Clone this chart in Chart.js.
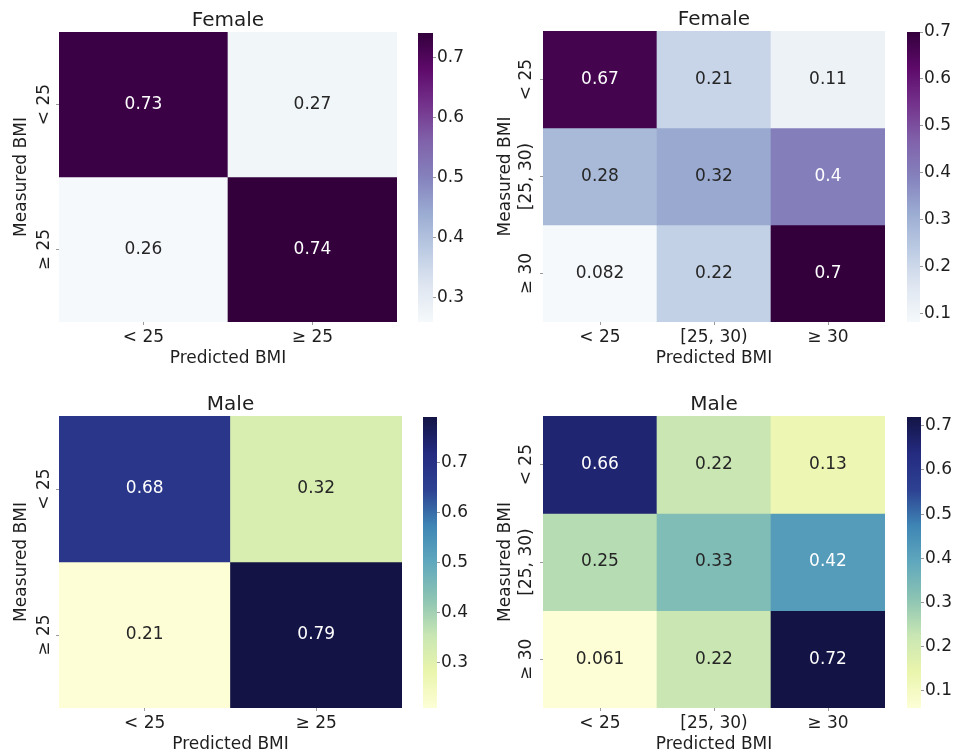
<!DOCTYPE html>
<html>
<head>
<meta charset="utf-8">
<script src="https://cdn.jsdelivr.net/npm/chart.js@4.4.1/dist/chart.umd.min.js"></script>
<style>
  html, body { margin: 0; padding: 0; background: #ffffff; }
  body { position: relative; width: 954px; height: 753px; overflow: hidden; }
  .box { position: absolute; }
</style>
</head>
<body>
<div class="box" style="left:0px;top:0px;width:397px;height:370px"><canvas id="heatFemale2"></canvas></div>
<div class="box" style="left:418px;top:0px;width:70px;height:370px"><canvas id="barFemale2"></canvas></div>
<div class="box" style="left:480px;top:0px;width:405px;height:370px"><canvas id="heatFemale3"></canvas></div>
<div class="box" style="left:907px;top:0px;width:70px;height:370px"><canvas id="barFemale3"></canvas></div>
<div class="box" style="left:0px;top:385px;width:402px;height:371px"><canvas id="heatMale2"></canvas></div>
<div class="box" style="left:423px;top:385px;width:70px;height:371px"><canvas id="barMale2"></canvas></div>
<div class="box" style="left:480px;top:385px;width:405px;height:371px"><canvas id="heatMale3"></canvas></div>
<div class="box" style="left:907px;top:385px;width:70px;height:371px"><canvas id="barMale3"></canvas></div>

<script>
// ---- data ----
const twoClassLabels = ['< 25', '≥ 25'];
const threeClassLabels = ['< 25', '[25, 30)', '≥ 30'];

// rows = measured BMI class, columns = predicted BMI class
const femaleTwoClass = [
  [0.73, 0.27],
  [0.26, 0.74]
];
const femaleThreeClass = [
  [0.67, 0.21, 0.11],
  [0.28, 0.32, 0.4],
  [0.082, 0.22, 0.7]
];
const maleTwoClass = [
  [0.68, 0.32],
  [0.21, 0.79]
];
const maleThreeClass = [
  [0.66, 0.22, 0.13],
  [0.25, 0.33, 0.42],
  [0.061, 0.22, 0.72]
];

// colour bar tick values
const femaleTwoTicks = [0.3, 0.4, 0.5, 0.6, 0.7];
const femaleThreeTicks = [0.1, 0.2, 0.3, 0.4, 0.5, 0.6, 0.7];
const maleTwoTicks = [0.3, 0.4, 0.5, 0.6, 0.7];
const maleThreeTicks = [0.1, 0.2, 0.3, 0.4, 0.5, 0.6, 0.7];

// sequential palettes (blue-purple and yellow-green-blue), evenly spaced stops
const purplePalette = ['#f5f9fb', '#dfe6f1', '#bccbe3', '#9bacd2', '#8582bd', '#8062aa', '#74338c', '#5e0a6a', '#33003c'];
const bluePalette = ['#fdfed6', '#eaf5ac', '#c8e6b3', '#8cc4b3', '#60a8bd', '#3f86b5', '#2d4192', '#242b80', '#131445'];

// ---- helpers ----
const FONT = 'DejaVu Sans';
const TEXT = '#1e1e1e';
Chart.defaults.font.family = FONT;
Chart.defaults.color = TEXT;
Chart.defaults.animation = false;

function hexToRgb(h) {
  return [parseInt(h.slice(1, 3), 16), parseInt(h.slice(3, 5), 16), parseInt(h.slice(5, 7), 16)];
}
function sampleMap(stops, t) {
  t = Math.max(0, Math.min(1, t));
  const pos = t * (stops.length - 1);
  const i = Math.min(Math.floor(pos), stops.length - 2);
  const f = pos - i;
  const a = hexToRgb(stops[i]), b = hexToRgb(stops[i + 1]);
  return a.map((c, k) => Math.round(c + (b[k] - c) * f));
}
function luminance(rgb) {
  const lin = rgb.map(c => {
    c = c / 255;
    return c <= 0.03928 ? c / 12.92 : Math.pow((c + 0.055) / 1.055, 2.4);
  });
  return 0.2126 * lin[0] + 0.7152 * lin[1] + 0.0722 * lin[2];
}
function formatG2(v) {
  return String(parseFloat(v.toPrecision(2)));
}

// writes the value into the middle of each cell, light text on dark cells
const cellLabels = {
  id: 'cellLabels',
  afterDatasetsDraw(chart) {
    const ctx = chart.ctx;
    ctx.save();
    ctx.font = '17px "' + FONT + '"';
    ctx.textAlign = 'center';
    ctx.textBaseline = 'middle';
    chart.data.datasets.forEach((ds, di) => {
      chart.getDatasetMeta(di).data.forEach((bar, i) => {
        ctx.fillStyle = luminance(ds.cellRgb[i]) > 0.38 ? '#262626' : '#ffffff';
        ctx.fillText(formatG2(ds.cellValues[i]), bar.x, (bar.y + bar.base) / 2);
      });
    });
    ctx.restore();
  }
};

function heatmap(id, title, labels, matrix, palette, cfg) {
  const flat = matrix.flat();
  const vmin = Math.min(...flat), vmax = Math.max(...flat);
  const rows = matrix.length;
  const datasets = matrix.map((row, r) => {
    const rgb = row.map(v => sampleMap(palette, (v - vmin) / (vmax - vmin)));
    return {
      data: row.map(() => [r, r + 1]),
      cellValues: row,
      cellRgb: rgb,
      backgroundColor: rgb.map(c => `rgb(${c[0]},${c[1]},${c[2]})`),
      borderWidth: 0,
      borderSkipped: false,
      barPercentage: 1,
      categoryPercentage: 1,
      grouped: false
    };
  });
  return new Chart(document.getElementById(id), {
    type: 'bar',
    data: { labels: labels, datasets: datasets },
    plugins: [cellLabels],
    options: {
      responsive: true,
      maintainAspectRatio: false,
      layout: { padding: 0 },
      plugins: {
        legend: { display: false },
        tooltip: { enabled: false },
        title: {
          display: true,
          text: title,
          fullSize: false,
          color: TEXT,
          font: { size: 20, weight: 'normal', lineHeight: 1 },
          padding: { top: cfg.titleTop, bottom: 1 }
        }
      },
      scales: {
        x: {
          type: 'category',
          afterFit: s => { s.height = 48; },
          grid: { display: true, offset: false, drawOnChartArea: false, drawTicks: true, tickLength: 3, color: '#9a9a9a' },
          border: { display: false },
          ticks: { font: { size: 17 }, color: TEXT, padding: 2, maxRotation: 0, autoSkip: false },
          title: { display: true, text: 'Predicted BMI', color: TEXT, font: { size: 17 }, padding: { top: 0, bottom: 1 } }
        },
        y: {
          type: 'linear',
          min: 0,
          max: rows,
          reverse: true,
          afterFit: s => { s.width = cfg.yWidth; },
          afterBuildTicks: s => { s.ticks = labels.map((_, i) => ({ value: i + 0.5 })); },
          grid: { display: true, drawOnChartArea: false, drawTicks: true, tickLength: 3, color: '#9a9a9a' },
          border: { display: false },
          ticks: {
            font: { size: 17 }, color: TEXT, autoSkip: false,
            minRotation: 90, maxRotation: 90, crossAlign: 'center', padding: cfg.yPad,
            callback: (v, i) => labels[i]
          },
          title: { display: true, text: 'Measured BMI', color: TEXT, font: { size: 17 }, padding: { top: cfg.yTitlePad, bottom: 0 } }
        }
      }
    }
  });
}

function colorbar(id, matrix, palette, tickValues, cfg) {
  const flat = matrix.flat();
  const vmin = Math.min(...flat), vmax = Math.max(...flat);
  return new Chart(document.getElementById(id), {
    type: 'bar',
    data: {
      labels: [''],
      datasets: [{
        data: [[vmin, vmax]],
        backgroundColor: (context) => {
          const chart = context.chart;
          const { ctx, chartArea, scales } = chart;
          if (!chartArea) return palette[0];
          const y0 = scales.y.getPixelForValue(vmin);
          const y1 = scales.y.getPixelForValue(vmax);
          const g = ctx.createLinearGradient(0, y0, 0, y1);
          palette.forEach((c, i) => g.addColorStop(i / (palette.length - 1), c));
          return g;
        },
        borderWidth: 0,
        borderSkipped: false,
        barPercentage: 1,
        categoryPercentage: 1
      }]
    },
    options: {
      responsive: true,
      maintainAspectRatio: false,
      layout: { padding: { top: cfg.top, bottom: 48, left: 0, right: 0 } },
      plugins: { legend: { display: false }, tooltip: { enabled: false }, title: { display: false } },
      scales: {
        x: { display: false },
        y: {
          position: 'right',
          min: vmin,
          max: vmax,
          afterFit: s => { s.width = 70 - cfg.barWidth; },
          afterBuildTicks: s => { s.ticks = tickValues.map(v => ({ value: v })); },
          grid: { display: true, drawOnChartArea: false, drawTicks: true, tickLength: 3, color: '#9a9a9a' },
          border: { display: false },
          ticks: { font: { size: 17 }, color: TEXT, padding: 1, autoSkip: false, callback: v => v.toFixed(1) }
        }
      }
    }
  });
}

// ---- panels ----
heatmap('heatFemale2', 'Female', twoClassLabels, femaleTwoClass, purplePalette, { titleTop: 11, yWidth: 59, yPad: -9.5, yTitlePad: 11 });
colorbar('barFemale2', femaleTwoClass, purplePalette, femaleTwoTicks, { top: 33, barWidth: 15 });

heatmap('heatFemale3', 'Female', threeClassLabels, femaleThreeClass, purplePalette, { titleTop: 10, yWidth: 63, yPad: -20.5, yTitlePad: 15 });
colorbar('barFemale3', femaleThreeClass, purplePalette, femaleThreeTicks, { top: 32, barWidth: 13 });

heatmap('heatMale2', 'Male', twoClassLabels, maleTwoClass, bluePalette, { titleTop: 10, yWidth: 59, yPad: -9.5, yTitlePad: 11 });
colorbar('barMale2', maleTwoClass, bluePalette, maleTwoTicks, { top: 32, barWidth: 14 });

heatmap('heatMale3', 'Male', threeClassLabels, maleThreeClass, bluePalette, { titleTop: 10, yWidth: 63, yPad: -20.5, yTitlePad: 15 });
colorbar('barMale3', maleThreeClass, bluePalette, maleThreeTicks, { top: 32, barWidth: 14 });
</script>
</body>
</html>
